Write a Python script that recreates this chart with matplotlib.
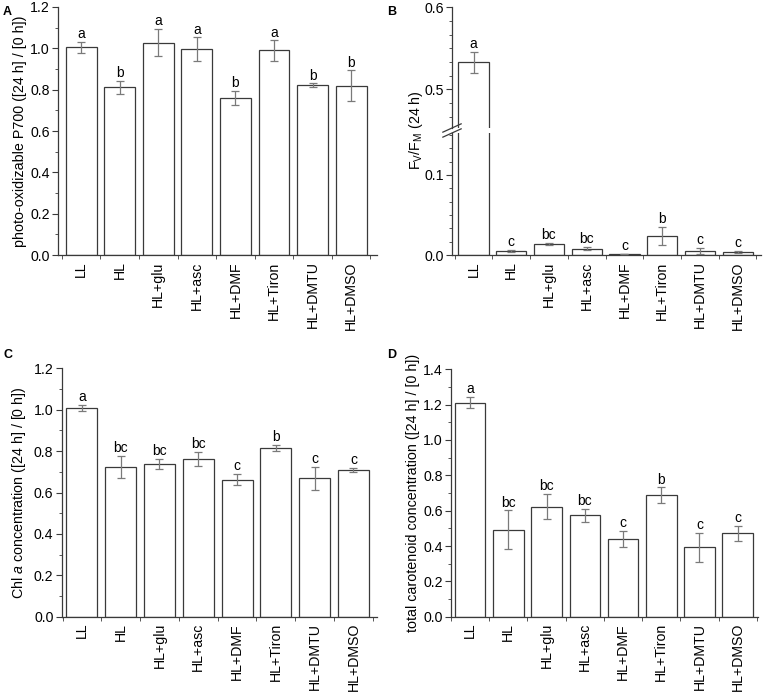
import numpy as np
import matplotlib
matplotlib.use("Agg")
import matplotlib.pyplot as plt
from matplotlib.ticker import MultipleLocator, AutoMinorLocator, FixedLocator

plt.rcParams['font.family'] = ['Liberation Sans', 'DejaVu Sans']
plt.rcParams['mathtext.fontset'] = 'custom'
plt.rcParams['mathtext.rm'] = 'Liberation Sans'
plt.rcParams['mathtext.it'] = 'Liberation Sans:italic'

groups = ["LL", "HL", "HL+glu", "HL+asc", "HL+DMF", "HL+Tiron", "HL+DMTU", "HL+DMSO"]

# A: photo-oxidizable P700
p700 = [1.005, 0.811, 1.028, 0.997, 0.761, 0.990, 0.821, 0.819]
p700_err = [0.027, 0.031, 0.065, 0.056, 0.034, 0.049, 0.010, 0.075]
p700_sig = ["a", "b", "a", "a", "b", "a", "b", "b"]

# B: Fv/Fm
fvfm = [0.533, 0.005, 0.014, 0.008, 0.0012, 0.024, 0.005, 0.004]
fvfm_err = [0.013, 0.0015, 0.001, 0.002, 0.0005, 0.011, 0.004, 0.0015]
fvfm_sig = ["a", "c", "bc", "bc", "c", "b", "c", "c"]

# C: Chl a
chla = [1.008, 0.723, 0.739, 0.763, 0.662, 0.814, 0.668, 0.708]
chla_err = [0.015, 0.053, 0.023, 0.034, 0.027, 0.015, 0.055, 0.010]
chla_sig = ["a", "bc", "bc", "bc", "c", "b", "c", "c"]

# D: total carotenoid
car = [1.211, 0.492, 0.623, 0.574, 0.440, 0.687, 0.393, 0.473]
car_err = [0.032, 0.110, 0.072, 0.036, 0.046, 0.045, 0.083, 0.042]
car_sig = ["a", "bc", "bc", "bc", "c", "b", "c", "c"]

EDGE = "#3a3a3a"
ERR = "#7a7a7a"
FS = 10.2
LFS = 10.3
SFS = 10

fig = plt.figure(figsize=(7.63, 6.93), dpi=100)


def style(ax, xlim, labels=True):
    x = np.arange(len(groups))
    ax.set_xlim(*xlim)
    for s in ["top", "right"]:
        ax.spines[s].set_visible(False)
    for s in ["left", "bottom"]:
        ax.spines[s].set_color(EDGE)
        ax.spines[s].set_linewidth(0.9)
    ax.set_xticks(x)
    if labels:
        ax.set_xticklabels(groups, rotation=90, fontsize=FS)
    else:
        ax.set_xticklabels([])
    ax.xaxis.set_minor_locator(FixedLocator(np.arange(-0.5, len(groups), 1.0)))
    ax.tick_params(axis="x", which="major", length=0, pad=4.5)
    ax.tick_params(axis="x", which="minor", length=3, direction="out", color=EDGE)
    ax.tick_params(axis="y", which="major", length=4, direction="out", color=EDGE, labelsize=FS, pad=2)
    ax.tick_params(axis="y", which="minor", length=2, direction="out", color=EDGE)


def bars(ax, vals, errs):
    x = np.arange(len(groups))
    ax.bar(x, vals, width=0.8, color="white", edgecolor=EDGE, linewidth=0.9, zorder=2)
    ax.errorbar(x, vals, yerr=errs, fmt="none", ecolor=ERR, elinewidth=0.9,
                capsize=3, capthick=0.9, zorder=3)


def letters(ax, vals, errs, sig, only=None):
    for i, (v, e, s) in enumerate(zip(vals, errs, sig)):
        if only is not None and i not in only:
            continue
        ax.annotate(s, (i, v + e), xytext=(0, 0.5), textcoords="offset points",
                    ha="center", va="bottom", fontsize=SFS)


def panel(left, bottom, width, height):
    return fig.add_axes([left, bottom, width, height])


# Panel A
axA = panel(0.0760, 0.6320, 0.4181, 0.3579)
bars(axA, p700, p700_err)
letters(axA, p700, p700_err, p700_sig)
axA.set_ylim(0, 1.2)
axA.yaxis.set_major_locator(MultipleLocator(0.2))
axA.yaxis.set_minor_locator(MultipleLocator(0.1))
style(axA, (-0.6, 7.67))
axA.set_ylabel("photo-oxidizable P700 ([24 h] / [0 h])", fontsize=LFS, labelpad=2)

# Panel B (broken axis)
axBt = panel(0.5924, 0.8153, 0.4050, 0.1742)
axBb = panel(0.5924, 0.6320, 0.4050, 0.1761)
for ax in (axBt, axBb):
    bars(ax, fvfm, fvfm_err)
axBt.set_ylim(0.453, 0.6)
axBb.set_ylim(0, 0.1525)
letters(axBt, fvfm, fvfm_err, fvfm_sig, only=[0])
letters(axBb, fvfm, fvfm_err, fvfm_sig, only=range(1, 8))
axBt.yaxis.set_major_locator(MultipleLocator(0.1))
axBt.yaxis.set_minor_locator(AutoMinorLocator(6))
axBb.yaxis.set_major_locator(MultipleLocator(0.1))
axBb.yaxis.set_minor_locator(AutoMinorLocator(6))
style(axBt, (-0.57, 7.62), labels=False)
style(axBb, (-0.57, 7.62))
axBt.spines["bottom"].set_visible(False)
axBt.tick_params(axis="x", which="both", length=0)
axBt.set_yticks([0.5, 0.6])
axBt.set_yticklabels(["0.5", "0.6"])
axBb.set_yticks([0.0, 0.1])
axBb.set_yticklabels(["0.0", "0.1"])
# break marks
d = 0.012
kw = dict(transform=fig.transFigure, color=EDGE, lw=0.9, clip_on=False)
fig.add_artist(plt.Line2D([0.5924 - d, 0.5924 + d], [0.8153 - 0.006, 0.8153 + 0.006], **kw))
fig.add_artist(plt.Line2D([0.5924 - d, 0.5924 + d], [0.8081 - 0.006, 0.8081 + 0.006], **kw))
fig.text(0.545, 0.8120, r"F$_\mathregular{V}$/F$_\mathregular{M}$ (24 h)", rotation=90,
         ha="center", va="center", fontsize=LFS)

# Panel C
axC = panel(0.0809, 0.1101, 0.4128, 0.3584)
bars(axC, chla, chla_err)
letters(axC, chla, chla_err, chla_sig)
axC.set_ylim(0, 1.2)
axC.yaxis.set_major_locator(MultipleLocator(0.2))
axC.yaxis.set_minor_locator(MultipleLocator(0.1))
style(axC, (-0.52, 7.6))
axC.set_ylabel(r"Chl $\mathit{a}$ concentration ([24 h] / [0 h])", fontsize=LFS, labelpad=4)

# Panel D
axD = panel(0.5911, 0.1101, 0.4023, 0.3570)
bars(axD, car, car_err)
letters(axD, car, car_err, car_sig)
axD.set_ylim(0, 1.4)
axD.yaxis.set_major_locator(MultipleLocator(0.2))
axD.yaxis.set_minor_locator(MultipleLocator(0.1))
style(axD, (-0.5, 7.53))
axD.set_ylabel("total carotenoid concentration ([24 h] / [0 h])", fontsize=LFS, labelpad=2)

# panel letters
for lab, xx, yy in [("A", 0.004, 0.992), ("B", 0.507, 0.992), ("C", 0.004, 0.497), ("D", 0.507, 0.497)]:
    fig.text(xx, yy, lab, fontsize=9, fontweight="bold", ha="left", va="top")

fig.savefig("out.png", dpi=100)
